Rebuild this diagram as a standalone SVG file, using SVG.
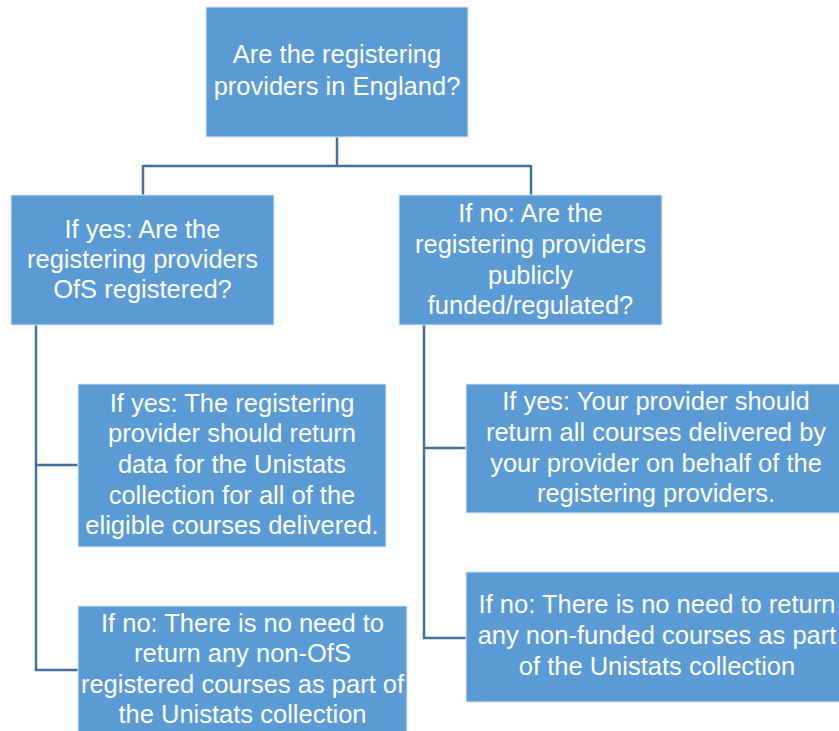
<svg xmlns="http://www.w3.org/2000/svg" width="839" height="731" viewBox="0 0 839 731">
<style>
.box{fill:#5B9BD5;stroke:#DDE8F4;stroke-width:1}
.t{font-family:"Liberation Sans",Arial,sans-serif;font-size:25.5px;fill:#FFFFFF;text-anchor:middle}
.c{fill:none;stroke:#41719C;stroke-width:2.5}
</style>
<rect x="0" y="0" width="839" height="731" fill="#FFFFFF"/>
<g id="connectors">
<path class="c" d="M337,137 V166 M143,166 H531 M143,165 V195 M531,165 V195"/>
<path class="c" d="M36,325 V670 H78 M36,465 H78"/>
<path class="c" d="M424,325 V638 H466 M424,448 H466"/>
</g>
<g id="n1">
<rect class="box" x="206" y="7" width="262" height="130"/>
<text class="t" x="337" y="63">Are the registering</text>
<text class="t" x="337" y="95">providers in England?</text>
</g>
<g id="n2">
<rect class="box" x="11" y="195" width="263" height="130"/>
<text class="t" x="142.5" y="238">If yes: Are the</text>
<text class="t" x="142.5" y="268">registering providers</text>
<text class="t" x="142.5" y="298">OfS registered?</text>
</g>
<g id="n3">
<rect class="box" x="399" y="195" width="263" height="130"/>
<text class="t" x="530.5" y="222">If no: Are the</text>
<text class="t" x="530.5" y="253">registering providers</text>
<text class="t" x="530.5" y="284">publicly</text>
<text class="t" x="530.5" y="314">funded/regulated?</text>
</g>
<g id="n4">
<rect class="box" x="78" y="384" width="308" height="163"/>
<text class="t" x="232" y="412">If yes: The registering</text>
<text class="t" x="232" y="442">provider should return</text>
<text class="t" x="232" y="473">data for the Unistats</text>
<text class="t" x="232" y="504">collection for all of the</text>
<text class="t" x="232" y="534">eligible courses delivered.</text>
</g>
<g id="n5">
<rect class="box" x="466" y="384" width="380" height="129"/>
<text class="t" x="656" y="410">If yes: Your provider should</text>
<text class="t" x="656" y="441">return all courses delivered by</text>
<text class="t" x="656" y="472">your provider on behalf of the</text>
<text class="t" x="656" y="502">registering providers.</text>
</g>
<g id="n6">
<rect class="box" x="78" y="606" width="329" height="140"/>
<text class="t" x="242.5" y="632">If no: There is no need to</text>
<text class="t" x="242.5" y="662">return any non-OfS</text>
<text class="t" x="242.5" y="693">registered courses as part of</text>
<text class="t" x="242.5" y="723">the Unistats collection</text>
</g>
<g id="n7">
<rect class="box" x="466" y="572" width="380" height="130"/>
<text class="t" x="657" y="613">If no: There is no need to return</text>
<text class="t" x="657" y="644">any non-funded courses as part</text>
<text class="t" x="657" y="675">of the Unistats collection</text>
</g>
</svg>
